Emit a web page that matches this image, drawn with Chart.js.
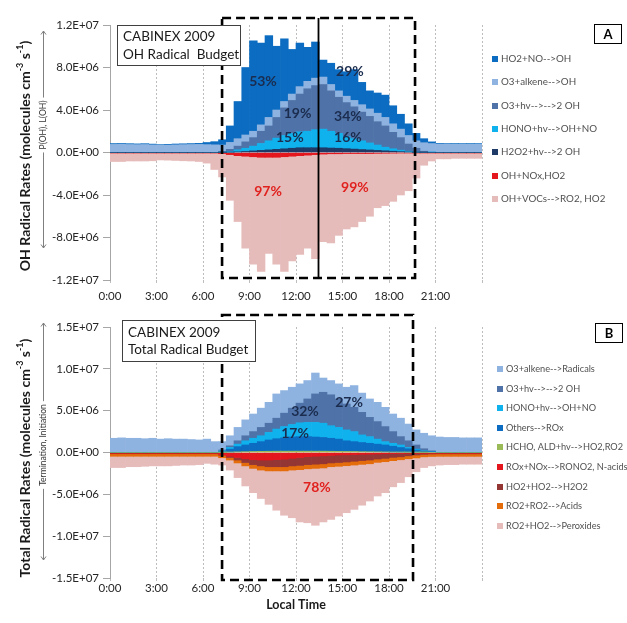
<!DOCTYPE html>
<html>
<head>
<meta charset="utf-8">
<script src="https://cdn.jsdelivr.net/npm/chart.js@4.4.1/dist/chart.umd.min.js"></script>
<style>
  html, body { margin: 0; padding: 0; background: #fff; }
  #wrap { position: relative; width: 627px; height: 623px; overflow: hidden; }
  #cA { position: absolute; left: 0; top: 0; }
  #cB { position: absolute; left: 0; top: 305px; }
</style>
</head>
<body>
<div id="wrap">
  <canvas id="cA" width="627" height="305"></canvas>
  <canvas id="cB" width="627" height="318"></canvas>
</div>
<script>
// Half-hour bins (start time of each bin), rates in 1E+06 molecules cm-3 s-1
const times = ['0:00','0:30','1:00','1:30','2:00','2:30','3:00','3:30','4:00','4:30','5:00','5:30',
  '6:00','6:30','7:00','7:30','8:00','8:30','9:00','9:30','10:00','10:30','11:00','11:30',
  '12:00','12:30','13:00','13:30','14:00','14:30','15:00','15:30','16:00','16:30','17:00','17:30',
  '18:00','18:30','19:00','19:30','20:00','20:30','21:00','21:30','22:00','22:30','23:00','23:30'];

const xTickHours = [0, 3, 6, 9, 12, 15, 18, 21, 24];

// ---- Panel A: OH radical budget ----
const aH2O2 = [0,0,0,0,0,0,0,0,0,0,0,0,0,0,
  .01,.03,.06,.10,.15,.20,.25,.30,.35,.40,
  .45,.45,.45,.45,.42,.40,.36,.32,.28,.24,
  .20,.16,.12,.08,.05,.02,.01,0,
  0,0,0,0,0,0];
const aHONO = [0,0,0,0,0,0,0,0,0,0,0,0,0,0,
  .03,.07,.19,.30,.45,.65,.85,1.05,1.25,1.40,
  1.50,1.55,1.70,1.75,1.58,1.40,1.14,.98,.82,.66,
  .50,.34,.23,.14,.07,.03,.01,.01,
  0,0,0,0,0,0];
const aO3hv = [0,0,0,0,0,0,0,0,0,0,0,0,0,0,
  .04,.20,.35,.60,.80,1.15,1.40,1.95,2.60,3.10,
  3.55,4.00,4.15,4.20,3.80,3.40,3.20,3.00,2.70,2.50,
  2.20,2.00,1.55,1.18,.68,.35,.10,.03,
  0,0,0,0,0,0];
const aO3alk = [.76,.78,.75,.74,.75,.72,.68,.70,.72,.74,.75,.76,.74,.72,
  .62,.65,.70,.65,.60,.60,.80,.70,.60,.60,
  .70,.70,.70,.70,.60,.60,.60,.60,.70,.70,
  .80,.80,.80,.80,.80,.70,.80,.80,
  .78,.78,.77,.78,.77,.78];
const aHO2NO = [.08,.07,.08,.07,.08,.07,.06,.07,.08,.08,.09,.10,.20,.30,
  .50,1.55,3.50,6.35,8.50,7.70,7.70,6.00,5.90,4.20,
  4.10,3.20,3.40,1.60,2.00,2.00,2.30,2.90,2.10,1.70,
  1.90,2.10,1.70,1.40,1.10,.70,.38,.16,
  .07,.06,.07,.06,.07,.06];
const aOHNOx = [-.02,-.02,-.02,-.02,-.02,-.02,-.02,-.02,-.02,-.02,-.02,-.02,-.03,-.05,
  -.10,-.20,-.30,-.35,-.40,-.45,-.45,-.45,-.40,-.35,
  -.30,-.25,-.20,-.15,-.12,-.12,-.10,-.10,-.10,-.10,
  -.08,-.07,-.06,-.05,-.05,-.04,-.03,-.02,
  -.02,-.02,-.02,-.02,-.02,-.02];
const aOHVOC = [-.83,-.83,-.78,-.78,-.78,-.76,-.68,-.70,-.73,-.76,-.78,-.83,-.97,-1.55,
  -2.2,-4.3,-6.2,-8.65,-10.1,-10.75,-9.05,-10.05,-10.8,-9.85,
  -9.3,-8.75,-9.8,-8.25,-8.38,-7.68,-7.1,-6.9,-6.4,-5.9,
  -5.12,-4.93,-4.54,-3.95,-3.55,-2.36,-1.17,-.78,
  -.58,-.58,-.53,-.53,-.53,-.53];

// ---- Panel B: total radical budget ----
const bO3alk = [1.7,1.75,1.7,1.7,1.65,1.7,1.6,1.65,1.6,1.6,1.55,1.5,1.6,1.3,
  1.0,1.2,1.6,1.9,2.1,2.3,2.5,2.9,2.7,2.5,
  2.3,2.2,2.5,1.7,1.7,1.8,2.0,2.6,2.3,2.2,
  2.3,2.3,2.1,2.2,2.0,1.8,1.85,1.8,
  1.85,1.8,1.8,1.75,1.75,1.75];
const bO3hv = [0,0,0,0,0,0,0,0,0,0,0,0,0,0,
  .1,.2,.4,.6,.8,1.0,1.1,1.3,1.6,1.95,
  2.35,2.8,3.4,3.7,3.7,3.4,3.1,2.9,2.7,2.3,
  2.1,1.8,1.4,1.0,.8,.5,.25,.1,
  0,0,0,0,0,0];
const bHONO = [0,0,0,0,0,0,0,0,0,0,0,0,0,0,
  .1,.2,.3,.5,.6,.7,.9,1.15,1.35,1.5,
  1.65,1.7,1.75,1.7,1.5,1.4,1.3,1.2,.9,.8,
  .6,.4,.35,.3,.15,.1,.05,.02,
  0,0,0,0,0,0];
const bOthers = [0,0,0,0,0,0,0,0,0,0,0,0,0,0,
  .08,.35,.62,.8,.98,1.16,1.35,1.49,1.59,1.69,
  1.74,1.74,1.69,1.64,1.55,1.46,1.27,1.18,1.1,1.01,
  .92,.83,.7,.56,.42,.28,.14,.08,
  0,0,0,0,0,0];
const bHCHO = [0,0,0,0,0,0,0,0,0,0,0,0,0,0,
  .02,.05,.08,.1,.12,.14,.15,.16,.16,.16,
  .16,.16,.16,.16,.15,.14,.13,.12,.1,.09,
  .08,.07,.05,.04,.03,.02,.01,0,
  0,0,0,0,0,0];
const bROxNOx = [-.1,-.1,-.1,-.1,-.1,-.1,-.1,-.1,-.1,-.1,-.1,-.1,-.1,-.1,
  -.25,-.45,-.6,-.75,-.85,-.9,-.9,-.85,-.8,-.7,
  -.6,-.5,-.45,-.4,-.35,-.3,-.28,-.25,-.22,-.2,
  -.18,-.15,-.13,-.12,-.1,-.1,-.1,-.1,
  -.1,-.1,-.1,-.1,-.1,-.1];
const bHO2HO2 = [-.05,-.05,-.05,-.05,-.05,-.05,-.05,-.05,-.05,-.05,-.05,-.05,-.05,-.05,
  -.08,-.15,-.3,-.45,-.6,-.7,-.8,-.85,-.9,-.9,
  -.95,-.95,-.95,-.95,-.9,-.9,-.85,-.8,-.75,-.7,
  -.6,-.55,-.45,-.4,-.3,-.2,-.12,-.08,
  -.06,-.06,-.06,-.06,-.06,-.06];
const bRO2RO2 = [-.3,-.3,-.3,-.3,-.3,-.3,-.3,-.3,-.3,-.3,-.3,-.3,-.3,-.3,
  -.3,-.3,-.35,-.4,-.45,-.5,-.5,-.5,-.5,-.5,
  -.5,-.5,-.5,-.5,-.45,-.45,-.45,-.45,-.45,-.45,
  -.4,-.4,-.4,-.35,-.35,-.35,-.3,-.3,
  -.3,-.3,-.3,-.3,-.3,-.3];
const bRO2HO2 = [-1.35,-1.35,-1.25,-1.25,-1.2,-1.15,-1.15,-1.15,-1.1,-1.05,-1.05,-1.0,-.85,-.95,
  -.87,-1.2,-1.75,-2.4,-2.9,-3.4,-4.0,-4.7,-5.3,-5.7,
  -6.25,-6.45,-6.8,-6.45,-6.3,-5.95,-5.62,-5.3,-4.88,-4.45,
  -4.02,-3.7,-3.12,-2.73,-2.15,-1.65,-1.28,-1.12,
  -1.04,-.99,-.99,-.94,-.94,-.94];

// Series names as they appear in each legend (top to bottom)
const legendA = ['HO2+NO-->OH','O3+alkene-->OH','O3+hv-->-->2 OH','HONO+hv-->OH+NO','H2O2+hv-->2 OH','OH+NOx,HO2','OH+VOCs-->RO2, HO2'];
const legendB = ['O3+alkene-->Radicals','O3+hv-->-->2 OH','HONO+hv-->OH+NO','Others-->ROx','HCHO, ALD+hv-->HO2,RO2','ROx+NOx-->RONO2, N-acids','HO2+HO2-->H2O2','RO2+RO2-->Acids','RO2+HO2-->Peroxides'];

const FONT = 'Lato, "Liberation Sans", sans-serif';
Chart.defaults.font.family = FONT;

// bin start "H:MM" -> hours; bars are centred in their half-hour bin
const startHours = times.map(t => { const [h, m] = t.split(':').map(Number); return h + m / 60; });
const halfBin = (startHours[1] - startHours[0]) / 2;
const toPoints = arr => arr.map((v, i) => ({ x: startHours[i] + halfBin, y: v }));

function sci(v) {
  const n = Math.round(v * 1e6);
  if (n === 0) return '0.0E+00';
  const e = Math.floor(Math.log10(Math.abs(n)) + 1e-9);
  const m = n / Math.pow(10, e);
  return m.toFixed(1) + 'E' + (e < 0 ? '-' : '+') + String(Math.abs(e)).padStart(2, '0');
}

function richVertical(ctx, x, y, parts, size, bold) {
  const w = bold ? 'bold ' : '';
  const base = w + size + 'px ' + FONT;
  const sup = w + Math.round(size * 0.62) + 'px ' + FONT;
  ctx.save();
  ctx.translate(x, y);
  ctx.rotate(-Math.PI / 2);
  let total = 0;
  parts.forEach(p => { ctx.font = p.sup ? sup : base; p.w = ctx.measureText(p.t).width; total += p.w; });
  let cx = -total / 2;
  ctx.textBaseline = 'middle';
  ctx.textAlign = 'left';
  parts.forEach(p => {
    ctx.font = p.sup ? sup : base;
    ctx.fillText(p.t, cx, p.sup ? -size * 0.33 : 0);
    cx += p.w;
  });
  ctx.restore();
}

function arrowLine(ctx, x, y0, y1, up) {
  ctx.beginPath();
  ctx.moveTo(x, y0);
  ctx.lineTo(x, y1);
  ctx.stroke();
  const tip = up ? Math.min(y0, y1) : Math.max(y0, y1);
  const d = up ? 3.5 : -3.5;
  ctx.beginPath();
  ctx.moveTo(x - 2.5, tip + d);
  ctx.lineTo(x, tip);
  ctx.lineTo(x + 2.5, tip + d);
  ctx.stroke();
}

// Annotation layer: boxes, panel letter, percentages, axis titles, legend
const decor = {
  id: 'decor',
  afterDraw(chart, args, o) {
    const ctx = chart.ctx;
    const xs = chart.scales.x, ys = chart.scales.y;
    ctx.save();

    // y-axis title and side arrow
    ctx.fillStyle = '#1a1a1a';
    richVertical(ctx, o.yTitle.x, o.yTitle.y, o.yTitle.parts, o.yTitle.size, true);
    ctx.fillStyle = '#333';
    ctx.font = o.side.size + 'px ' + FONT;
    ctx.save();
    ctx.translate(o.side.x, o.side.y);
    ctx.rotate(-Math.PI / 2);
    ctx.textAlign = 'center';
    ctx.textBaseline = 'middle';
    const sw = ctx.measureText(o.side.text).width;
    ctx.fillText(o.side.text, 0, 0);
    ctx.restore();
    ctx.strokeStyle = '#7f7f7f';
    ctx.lineWidth = 1;
    arrowLine(ctx, o.side.x + 0.5, o.side.top, o.side.y - sw / 2 - 3, true);
    arrowLine(ctx, o.side.x + 0.5, o.side.y + sw / 2 + 3, o.side.bottom, false);

    // dashed daytime window
    const bx0 = xs.getPixelForValue(o.win.x0), bx1 = xs.getPixelForValue(o.win.x1);
    ctx.strokeStyle = '#000';
    ctx.lineWidth = 2.6;
    ctx.setLineDash([9, 5]);
    ctx.strokeRect(bx0, o.win.top, bx1 - bx0, o.win.bottom - o.win.top);
    ctx.setLineDash([]);
    if (o.win.split != null) {
      const sx = Math.round(xs.getPixelForValue(o.win.split)) + 0.5;
      ctx.lineWidth = 1.8;
      ctx.beginPath();
      ctx.moveTo(sx, o.win.top);
      ctx.lineTo(sx, o.win.bottom);
      ctx.stroke();
    }

    // title box
    const tb = o.titleBox;
    ctx.fillStyle = '#fff';
    ctx.fillRect(tb.x, tb.y, tb.w, tb.h);
    ctx.strokeStyle = '#404040';
    ctx.lineWidth = 1;
    ctx.strokeRect(tb.x + 0.5, tb.y + 0.5, tb.w, tb.h);
    ctx.fillStyle = '#1a1a1a';
    ctx.font = '13.5px ' + FONT;
    ctx.textAlign = 'left';
    ctx.textBaseline = 'middle';
    tb.lines.forEach((t, i) => ctx.fillText(t, tb.x + 6, tb.ly[i]));

    // panel letter
    const lb = o.letter;
    ctx.fillStyle = '#fff';
    ctx.fillRect(lb.x, lb.y, lb.w, lb.h);
    ctx.strokeStyle = '#000';
    ctx.strokeRect(lb.x + 0.5, lb.y + 0.5, lb.w, lb.h);
    ctx.fillStyle = '#000';
    ctx.font = 'bold 13px ' + FONT;
    ctx.textAlign = 'center';
    ctx.fillText(lb.t, lb.x + lb.w / 2 + 0.5, lb.y + lb.h / 2 + 1);

    // percentages
    ctx.font = 'bold 14px ' + FONT;
    ctx.textAlign = 'center';
    ctx.textBaseline = 'middle';
    o.pct.forEach(p => {
      ctx.fillStyle = p.red ? '#e0221f' : '#1b2c4e';
      ctx.fillText(p.t, xs.getPixelForValue(p.h), ys.getPixelForValue(p.v));
    });

    // x-axis title
    if (o.xTitle) {
      ctx.fillStyle = '#1a1a1a';
      ctx.font = 'bold 12.5px ' + FONT;
      ctx.fillText(o.xTitle.t, (chart.chartArea.left + chart.chartArea.right) / 2, o.xTitle.y);
    }

    // legend
    const lg = o.legend;
    ctx.font = lg.size + 'px ' + FONT;
    ctx.textAlign = 'left';
    ctx.textBaseline = 'middle';
    lg.order.forEach((lab, i) => {
      const ds = chart.data.datasets.find(d => d.label === lab);
      const y = lg.y + i * lg.dy;
      ctx.fillStyle = ds.backgroundColor;
      ctx.fillRect(lg.x, Math.round(y - 3), 6, 6);
      ctx.fillStyle = '#505050';
      ctx.fillText(lab, lg.x + 9, y);
    });
    ctx.restore();
  }
};

function build(canvasId, datasets, yMin, yMax, step, xH, tickPad, deco) {
  return new Chart(document.getElementById(canvasId), {
    type: 'bar',
    data: { datasets: datasets.map(d => ({
      label: d.label, data: toPoints(d.values), backgroundColor: d.color,
      borderWidth: 0, barPercentage: 1, categoryPercentage: 1
    })) },
    options: {
      responsive: false,
      animation: false,
      layout: { padding: { left: 0, right: 145, top: deco.top, bottom: 0 } },
      plugins: { legend: { display: false }, tooltip: { enabled: false }, decor: deco },
      scales: {
        x: {
          type: 'linear', stacked: true, min: 0, max: 24, offset: false,
          afterBuildTicks: s => { s.ticks = xTickHours.map(v => ({ value: v })); },
          afterFit: s => { s.height = xH; s.paddingLeft = 0; s.paddingRight = 0; },
          ticks: {
            autoSkip: false, maxRotation: 0, padding: tickPad,
            color: '#262626', font: { size: 11.5 },
            callback: v => (v < 24 ? v + ':00' : '')
          },
          grid: { color: '#bdbdbd', lineWidth: 1, tickLength: 3, offset: false },
          border: { display: false, dash: [2, 2] }
        },
        y: {
          stacked: true, min: yMin, max: yMax,
          afterBuildTicks: s => {
            const t = [];
            for (let v = yMin; v <= yMax + 1e-9; v += step) t.push({ value: v });
            s.ticks = t;
          },
          afterFit: s => { s.width = 110; },
          ticks: { color: '#262626', font: { size: 11.5 }, padding: 4, callback: v => sci(v) },
          grid: { drawOnChartArea: false, tickLength: 7, color: '#a6a6a6' },
          border: { display: true, color: '#a6a6a6' }
        }
      }
    },
    plugins: [decor]
  });
}

const sup = (t) => ({ t, sup: true });
const txt = (t) => ({ t, sup: false });

build('cA', [
  { label: legendA[4], values: aH2O2,  color: '#1f3a66' },
  { label: legendA[3], values: aHONO,  color: '#10b2ee' },
  { label: legendA[2], values: aO3hv,  color: '#4f73a8' },
  { label: legendA[1], values: aO3alk, color: '#8fb3e0' },
  { label: legendA[0], values: aHO2NO, color: '#0b6cc1' },
  { label: legendA[5], values: aOHNOx, color: '#e3171d' },
  { label: legendA[6], values: aOHVOC, color: '#e6bcbb' }
], -12, 12, 4, 25, 6, {
  top: 25,
  yTitle: { x: 25, y: 156, size: 14, parts: [txt('OH Radical Rates (molecules cm'), sup('-3'), txt(' s'), sup('-1'), txt(')')] },
  side: { x: 43, y: 125, size: 8.5, text: 'P(OH), L(OH)', top: 31, bottom: 248 },
  win: { x0: 7.23, x1: 19.68, top: 18, bottom: 278, split: 13.42 },
  titleBox: { x: 117, y: 25, w: 123, h: 40, lines: ['CABINEX 2009', 'OH Radical  Budget'], ly: [37, 55] },
  letter: { x: 594, y: 24, w: 27, h: 19, t: 'A' },
  pct: [
    { t: '53%', h: 9.87, v: 6.7 }, { t: '19%', h: 12.1, v: 3.7 }, { t: '15%', h: 11.6, v: 1.4 },
    { t: '29%', h: 15.48, v: 7.6 }, { t: '34%', h: 15.35, v: 3.35 }, { t: '16%', h: 15.35, v: 1.4 },
    { t: '97%', h: 10.2, v: -3.7, red: true }, { t: '99%', h: 15.8, v: -3.25, red: true }
  ],
  legend: { x: 492, y: 59, dy: 23.3, size: 9.8, order: legendA }
});

build('cB', [
  { label: legendB[4], values: bHCHO,   color: '#9bbb59' },
  { label: legendB[3], values: bOthers, color: '#0b6cc1' },
  { label: legendB[2], values: bHONO,   color: '#10b2ee' },
  { label: legendB[1], values: bO3hv,   color: '#4f73a8' },
  { label: legendB[0], values: bO3alk,  color: '#8fb3e0' },
  { label: legendB[5], values: bROxNOx, color: '#e3171d' },
  { label: legendB[6], values: bHO2HO2, color: '#943634' },
  { label: legendB[7], values: bRO2RO2, color: '#e46c0a' },
  { label: legendB[8], values: bRO2HO2, color: '#e6bcbb' }
], -15, 15, 5, 45, 0, {
  top: 22,
  yTitle: { x: 25, y: 153, size: 14, parts: [txt('Total Radical Rates (molecules cm'), sup('-3'), txt(' s'), sup('-1'), txt(')')] },
  side: { x: 43, y: 140, size: 8.5, text: 'Termination, Initiation', top: 18, bottom: 255 },
  win: { x0: 7.23, x1: 19.55, top: 10, bottom: 275, split: null },
  titleBox: { x: 122, y: 15, w: 133, h: 41, lines: ['CABINEX 2009', 'Total Radical Budget'], ly: [28, 45] },
  letter: { x: 595, y: 18, w: 27, h: 19, t: 'B' },
  pct: [
    { t: '32%', h: 12.58, v: 4.9 }, { t: '17%', h: 11.94, v: 2.27 }, { t: '27%', h: 15.42, v: 6.0 },
    { t: '78%', h: 13.35, v: -4.2, red: true }
  ],
  xTitle: { t: 'Local Time', y: 300 },
  legend: { x: 497, y: 64, dy: 19.6, size: 9.2, order: legendB }
});
</script>
</body>
</html>
